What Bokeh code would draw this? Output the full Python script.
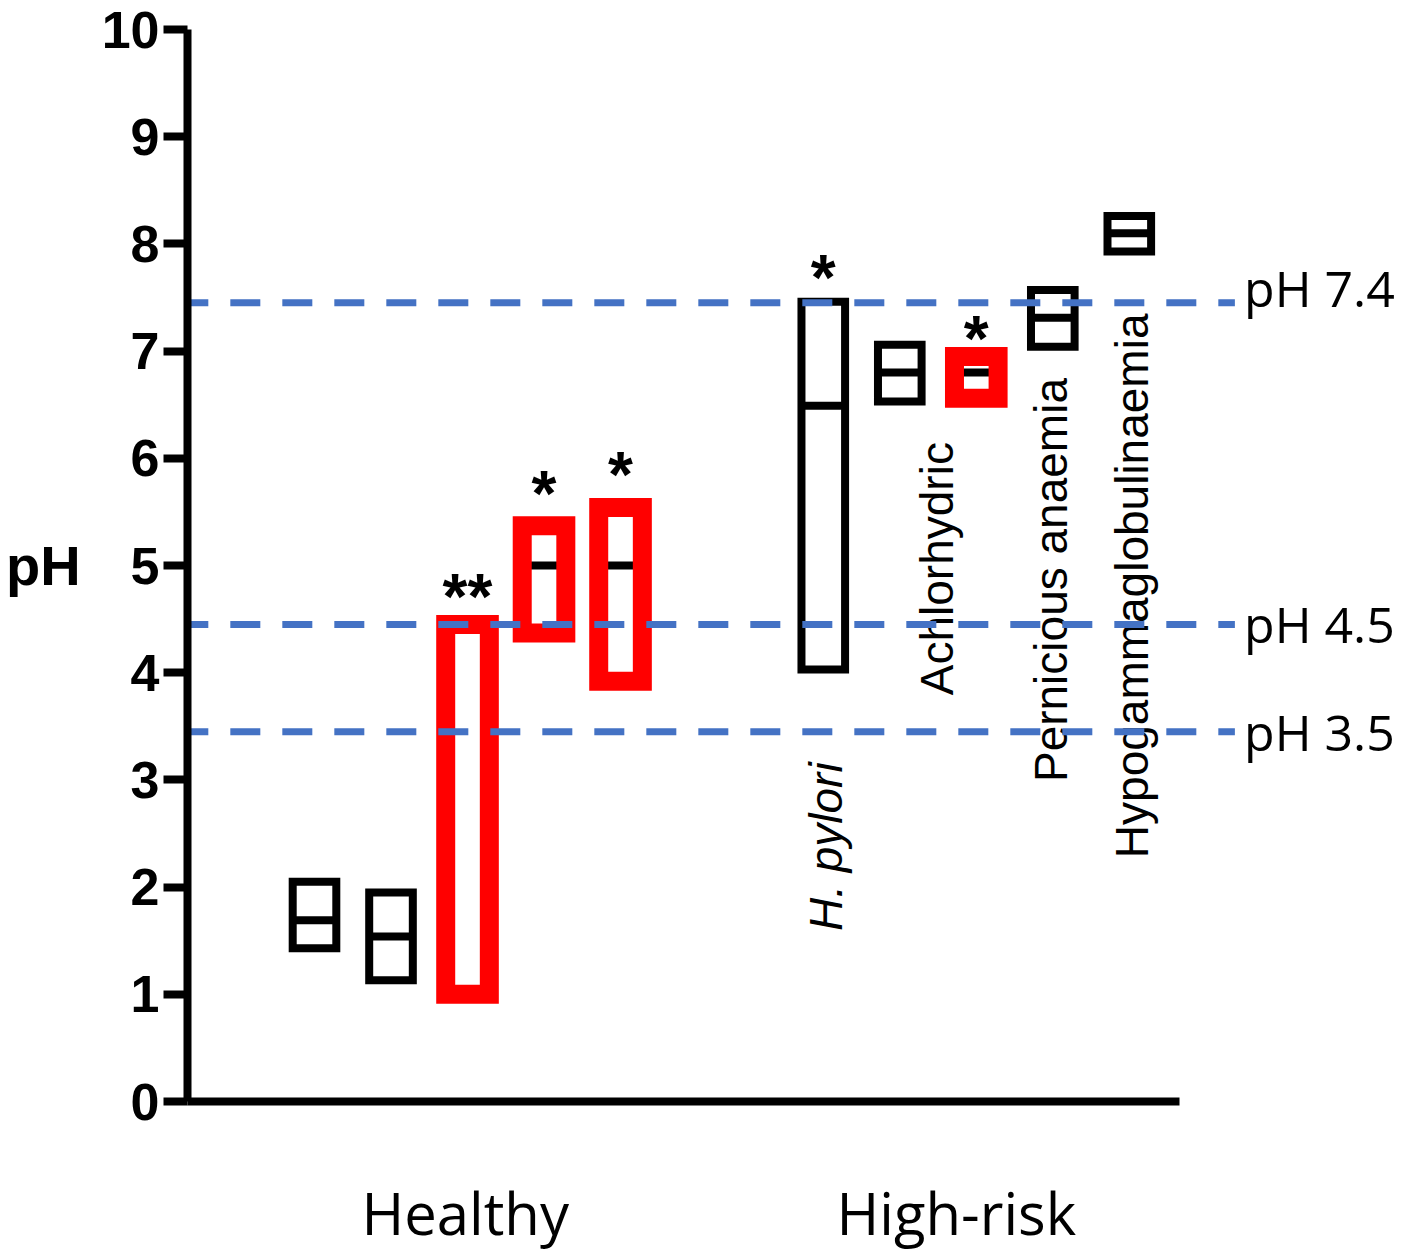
import math
import numpy as np
from bokeh.plotting import figure
from bokeh.models import Range1d, FixedTicker, ColumnDataSource
from bokeh.core.properties import value
from bokeh.embed import file_html
from bokeh.resources import INLINE

# ---------------- data ----------------
group_labels = ["Healthy", "High-risk"]
group_pos = [2.97, 9.39]

box_pos = [1, 2, 3, 4, 5, 7.65, 8.65, 9.65, 10.65, 11.65]
box_low = [1.43, 1.13, 1.00, 4.37, 3.92, 4.03, 6.53, 6.56, 7.04, 7.93]
box_high = [2.05, 1.95, 4.45, 5.37, 5.54, 7.46, 7.06, 6.95, 7.57, 8.26]
box_median = [1.69, 1.54, np.nan, 5.00, 5.00, 6.49, 6.80, 6.80, 7.31, 8.10]
box_red = [False, False, True, True, True, False, False, True, False, False]

star_text = ["**", "*", "*", "*", "*"]
star_pos = [3, 4, 5, 7.65, 9.65]
star_y = [4.85, 5.81, 5.98, 7.82, 7.25]

cond_labels = ["H. pylori", "Achlorhydric", "Pernicious anaemia", "Hypogammaglobulinaemia"]
cond_pos = [7.68, 9.13, 10.62, 11.68]
cond_start = [1.59, 3.79, 2.98, 2.27]
cond_italic = [True, False, False, False]

ref_ph = [7.45, 4.45, 3.45]
ref_labels = ["pH 7.4", "pH 4.5", "pH 3.5"]
ref_label_y = [7.59, 4.45, 3.45]

y_ticks = list(range(0, 11))

# ---------------- layout / style ----------------
BOX_W = 0.57
BLUE = "#4472C4"
RED = "#FF0000"

p = figure(width=1418, height=1254,
           x_range=Range1d(-0.66, 15.43), y_range=Range1d(0, 10),
           output_backend="svg", toolbar_location=None,
           min_border_left=187, min_border_right=0,
           min_border_top=29, min_border_bottom=153)
p.outline_line_color = None
p.grid.visible = False
p.background_fill_color = "white"
p.border_fill_color = "white"

# y axis
ya = p.yaxis[0]
ya.ticker = FixedTicker(ticks=y_ticks)
ya.axis_line_width = 8
ya.axis_line_color = "black"
ya.major_tick_line_width = 8
ya.major_tick_line_color = "black"
ya.major_tick_out = 24
ya.major_tick_in = 0
ya.minor_tick_out = 0
ya.minor_tick_in = 0
ya.major_label_text_font = "Liberation Sans"
ya.major_label_text_font_style = "bold"
ya.major_label_text_font_size = "52px"
ya.major_label_text_color = "black"
ya.major_label_standoff = 4
ya.axis_label = "pH"
ya.axis_label_text_font = "Liberation Sans"
ya.axis_label_text_font_style = "bold"
ya.axis_label_text_font_size = "56px"
ya.axis_label_text_color = "black"
ya.axis_label_orientation = "horizontal"
ya.axis_label_standoff = 18

# x axis
xa = p.xaxis[0]
xa.ticker = FixedTicker(ticks=group_pos)
xa.major_label_overrides = {pos: lab for pos, lab in zip(group_pos, group_labels)}
xa.bounds = (-0.66, 12.31)
xa.axis_line_width = 8
xa.axis_line_color = "black"
xa.major_tick_out = 0
xa.major_tick_in = 0
xa.minor_tick_out = 0
xa.minor_tick_in = 0
xa.major_label_text_font = "Open Sans"
xa.major_label_text_font_size = "58px"
xa.major_label_text_color = "black"
xa.major_label_standoff = 71

# boxes
bx = np.array(box_pos, dtype=float)
left = bx - BOX_W / 2
right = bx + BOX_W / 2
red = np.array(box_red)

# medians
p.segment(x0=left, x1=right, y0=box_median, y1=box_median,
          line_color="black", line_width=8)

blk = ColumnDataSource(dict(left=left[~red], right=right[~red],
                            bottom=np.array(box_low)[~red], top=np.array(box_high)[~red]))
rsrc = ColumnDataSource(dict(left=left[red], right=right[red],
                             bottom=np.array(box_low)[red], top=np.array(box_high)[red]))
p.quad(left="left", right="right", bottom="bottom", top="top", source=blk,
       fill_color=None, line_color="black", line_width=8, line_join="miter")
p.quad(left="left", right="right", bottom="bottom", top="top", source=rsrc,
       fill_color=None, line_color=RED, line_width=19, line_join="miter")

# significance stars
p.text(x=star_pos, y=star_y, text=star_text, text_align="center",
       text_baseline="middle", text_font=value("Liberation Sans"),
       text_font_style="bold", text_font_size="64px", text_color="black",
       y_offset=15)

# condition labels (rotated)
for lab, xp, ys, it in zip(cond_labels, cond_pos, cond_start, cond_italic):
    p.text(x=[xp], y=[ys], text=[lab], angle=math.pi / 2,
           text_align="left", text_baseline="middle",
           text_font=value("Liberation Sans"),
           text_font_style="italic" if it else "normal",
           text_font_size="46px", text_color="black")

# reference pH lines
p.segment(x0=[-0.78] * len(ref_ph), x1=[13.03] * len(ref_ph), y0=ref_ph, y1=ref_ph,
          line_color=BLUE, line_width=7, line_dash="30 22")
p.text(x=[13.15] * len(ref_labels), y=ref_label_y, text=ref_labels,
       text_align="left", text_baseline="middle",
       text_font=value("Open Sans"), text_font_size="50px", text_color="black")

open("out.html", "w").write(file_html(p, INLINE))
